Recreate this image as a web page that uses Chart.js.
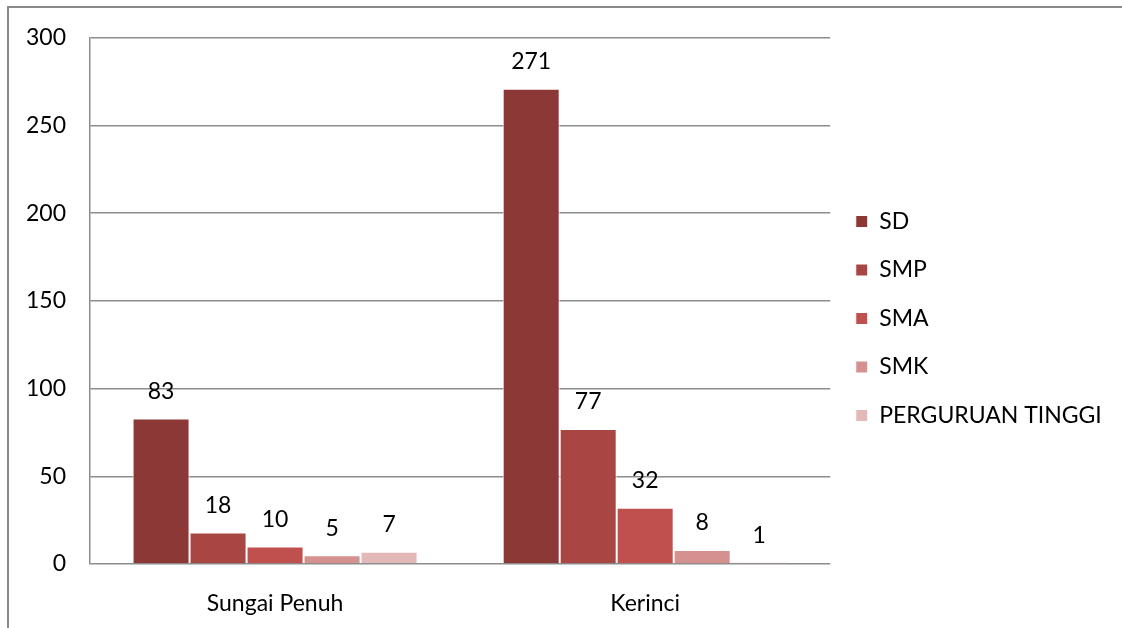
<!DOCTYPE html>
<html>
<head>
<meta charset="utf-8">
<script src="https://cdn.jsdelivr.net/npm/chart.js@4/dist/chart.umd.min.js"></script>
<style>
    html, body { margin: 0; padding: 0; background: #fff; }
    #wrap { position: relative; width: 1122px; height: 628px; }
    #frame {
        position: absolute; left: 7px; top: 6px; right: 0; bottom: 0;
        border-left: 2px solid #8a8a8a; border-top: 2px solid #8a8a8a;
        pointer-events: none;
    }
    canvas { position: absolute; left: 0; top: 0; }
</style>
</head>
<body>
<div id="wrap">
    <canvas id="chart" width="1122" height="628"></canvas>
    <div id="frame"></div>
</div>
<script>
// --- Data ---
const regions = ['Sungai Penuh', 'Kerinci'];
const levels = ['SD', 'SMP', 'SMA', 'SMK', 'PERGURUAN TINGGI'];
const sdValues = [83, 271];
const smpValues = [18, 77];
const smaValues = [10, 32];
const smkValues = [5, 8];
const ptValues = [7, 1];
const levelColors = ['#8c3836', '#a84644', '#c0504d', '#d49190', '#e3b9b8'];

const FONT = 'Lato, "Open Sans", sans-serif';
const FONT_SIZE = 23;

// value labels above each bar
const valueLabels = {
    id: 'valueLabels',
    afterDatasetsDraw(chart) {
        const ctx = chart.ctx;
        ctx.save();
        ctx.font = FONT_SIZE + 'px ' + FONT;
        ctx.fillStyle = '#000';
        ctx.textAlign = 'center';
        ctx.textBaseline = 'middle';
        chart.data.datasets.forEach((ds, i) => {
            chart.getDatasetMeta(i).data.forEach((bar, j) => {
                ctx.fillText(ds.data[j], bar.x, bar.y - 27);
            });
        });
        ctx.restore();
    }
};

// nudge the legend block up a little, like the original
const legendShift = {
    id: 'legendShift',
    afterLayout(chart) {
        if (!chart.legend) return;
        chart.legend.top -= 14;
        chart.legend.bottom -= 14;
    }
};

const seriesValues = [sdValues, smpValues, smaValues, smkValues, ptValues];

new Chart(document.getElementById('chart'), {
    type: 'bar',
    data: {
        labels: regions,
        datasets: levels.map((name, i) => ({
            label: name,
            data: seriesValues[i],
            backgroundColor: levelColors[i],
            borderColor: '#ffffff',
            borderWidth: 1,
            borderSkipped: 'bottom',
            categoryPercentage: 0.77,
            barPercentage: 1
        }))
    },
    options: {
        responsive: false,
        animation: false,
        layout: { padding: { top: 37, right: 15, left: 0, bottom: 0 } },
        plugins: {
            tooltip: { enabled: false },
            legend: {
                position: 'right',
                align: 'center',
                labels: {
                    font: { family: FONT, size: FONT_SIZE },
                    color: '#000',
                    boxWidth: 12,
                    boxHeight: 12,
                    padding: 25.5
                }
            }
        },
        scales: {
            x: {
                grid: { display: false, drawTicks: false },
                border: { display: false },
                ticks: { font: { family: FONT, size: FONT_SIZE }, color: '#000', padding: 26 },
                afterFit: s => { s.height = 64; }
            },
            y: {
                min: 0,
                max: 300,
                ticks: { stepSize: 50, font: { family: FONT, size: FONT_SIZE }, color: '#000', padding: 24 },
                grid: { color: '#8c8c8c', lineWidth: 1.5, drawTicks: false },
                border: { color: '#8c8c8c', width: 1.5 },
                afterFit: s => { s.width = 90; }
            }
        }
    },
    plugins: [valueLabels, legendShift]
});
</script>
</body>
</html>
